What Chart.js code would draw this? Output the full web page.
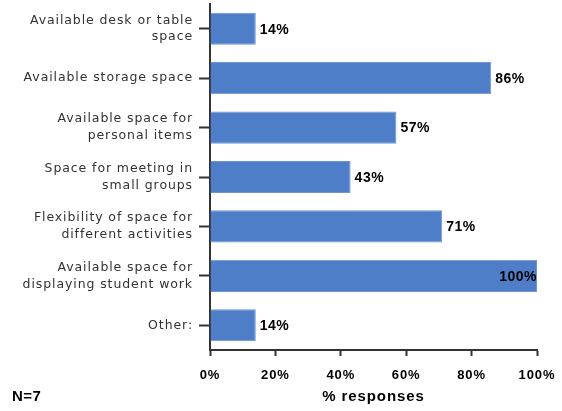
<!DOCTYPE html>
<html>
<head>
<meta charset="utf-8">
<script src="https://cdn.jsdelivr.net/npm/chart.js@4/dist/chart.umd.min.js"></script>
<style>
  html, body { margin: 0; padding: 0; background: #fff; }
  #wrap { width: 562px; height: 411px; }
</style>
</head>
<body>
<div id="wrap"><canvas id="chart" width="562" height="411"></canvas></div>
<script>
    // Data
    var categories = [
        ['Available desk or table', 'space'],
        'Available storage space',
        ['Available space for', 'personal items'],
        ['Space for meeting in', 'small groups'],
        ['Flexibility of space for', 'different activities'],
        ['Available space for', 'displaying student work'],
        'Other:'
    ];
    var responses = [14, 86, 57, 43, 71, 100, 14];
    var xTicks    = [0, 20, 40, 60, 80, 100];
    var sampleNote = 'N=7';

    var barColour  = '#4f7ec8';
    var axisColour = '#333333';
    var boldFont   = '"Liberation Sans", Arial, sans-serif';

    // the reference text is spaced out a little
    var spacing = {
        id: 'spacing',
        beforeLayout: function (chart) { chart.ctx.letterSpacing = '0.9px'; },
        beforeDraw:   function (chart) { chart.ctx.letterSpacing = '0.9px'; }
    };

    // Value labels to the right of bars (inside when they would overflow)
    var valueLabels = {
        id: 'valueLabels',
        afterDatasetsDraw: function (chart) {
            var ctx  = chart.ctx;
            var area = chart.chartArea;
            var meta = chart.getDatasetMeta(0);
            ctx.save();
            ctx.font = 'bold 14px ' + boldFont;
            ctx.letterSpacing = '0.5px';
            ctx.fillStyle = '#000';
            ctx.textBaseline = 'middle';
            meta.data.forEach(function (bar, i) {
                var txt = responses[i] + '%';
                var w = ctx.measureText(txt).width;
                if (bar.x + 4 + w > area.right + 2) {
                    ctx.textAlign = 'right';
                    ctx.fillText(txt, bar.x, bar.y + 1);
                } else {
                    ctx.textAlign = 'left';
                    ctx.fillText(txt, bar.x + 4, bar.y + 1);
                }
            });
            ctx.restore();
        }
    };

    var noteLabel = {
        id: 'noteLabel',
        afterDraw: function (chart) {
            var ctx = chart.ctx;
            ctx.save();
            ctx.font = 'bold 15px ' + boldFont;
            ctx.letterSpacing = '0.5px';
            ctx.fillStyle = '#000';
            ctx.textAlign = 'left';
            ctx.textBaseline = 'middle';
            ctx.fillText(sampleNote, 12, 397);
            ctx.restore();
        }
    };

    new Chart(document.getElementById('chart'), {
        type: 'bar',
        data: {
            labels: categories,
            datasets: [{
                data: responses,
                backgroundColor: barColour,
                borderColor: '#6d95d6',
                borderWidth: 1,
                barPercentage: 0.65,
                categoryPercentage: 1.0
            }]
        },
        options: {
            indexAxis: 'y',
            responsive: false,
            animation: false,
            layout: { padding: { left: 0, right: 25, top: 4, bottom: 0 } },
            plugins: {
                legend: { display: false },
                tooltip: { enabled: false }
            },
            scales: {
                x: {
                    min: 0,
                    max: 100,
                    afterBuildTicks: function (scale) {
                        scale.ticks = xTicks.map(function (v) { return { value: v }; });
                    },
                    afterFit: function (scale) {
                        scale.height = 61;
                        scale.paddingLeft = 0;
                        scale.paddingRight = 0;
                    },
                    grid: {
                        drawOnChartArea: false,
                        drawTicks: true,
                        tickLength: 6,
                        tickWidth: 2,
                        color: axisColour
                    },
                    border: { color: axisColour, width: 2 },
                    ticks: {
                        padding: 12,
                        maxRotation: 0,
                        color: '#000',
                        font: { family: boldFont, size: 13, weight: 'bold' },
                        callback: function (v) { return v + '%'; }
                    },
                    title: {
                        display: true,
                        text: '% responses',
                        color: '#000',
                        padding: { top: 0, bottom: 5 },
                        font: { family: boldFont, size: 15, weight: 'bold' }
                    }
                },
                y: {
                    afterFit: function (scale) {
                        scale.width = 210;
                        scale.paddingTop = 0;
                        scale.paddingBottom = 0;
                    },
                    grid: {
                        drawOnChartArea: false,
                        drawTicks: true,
                        tickLength: 11,
                        tickWidth: 2,
                        color: axisColour,
                        offset: false
                    },
                    border: { color: axisColour, width: 2 },
                    ticks: {
                        padding: 6,
                        color: '#333',
                        font: { family: '"DejaVu Sans", Verdana, sans-serif', size: 12.5, lineHeight: 1.35 }
                    }
                }
            }
        },
        plugins: [spacing, valueLabels, noteLabel]
    });
</script>
</body>
</html>
